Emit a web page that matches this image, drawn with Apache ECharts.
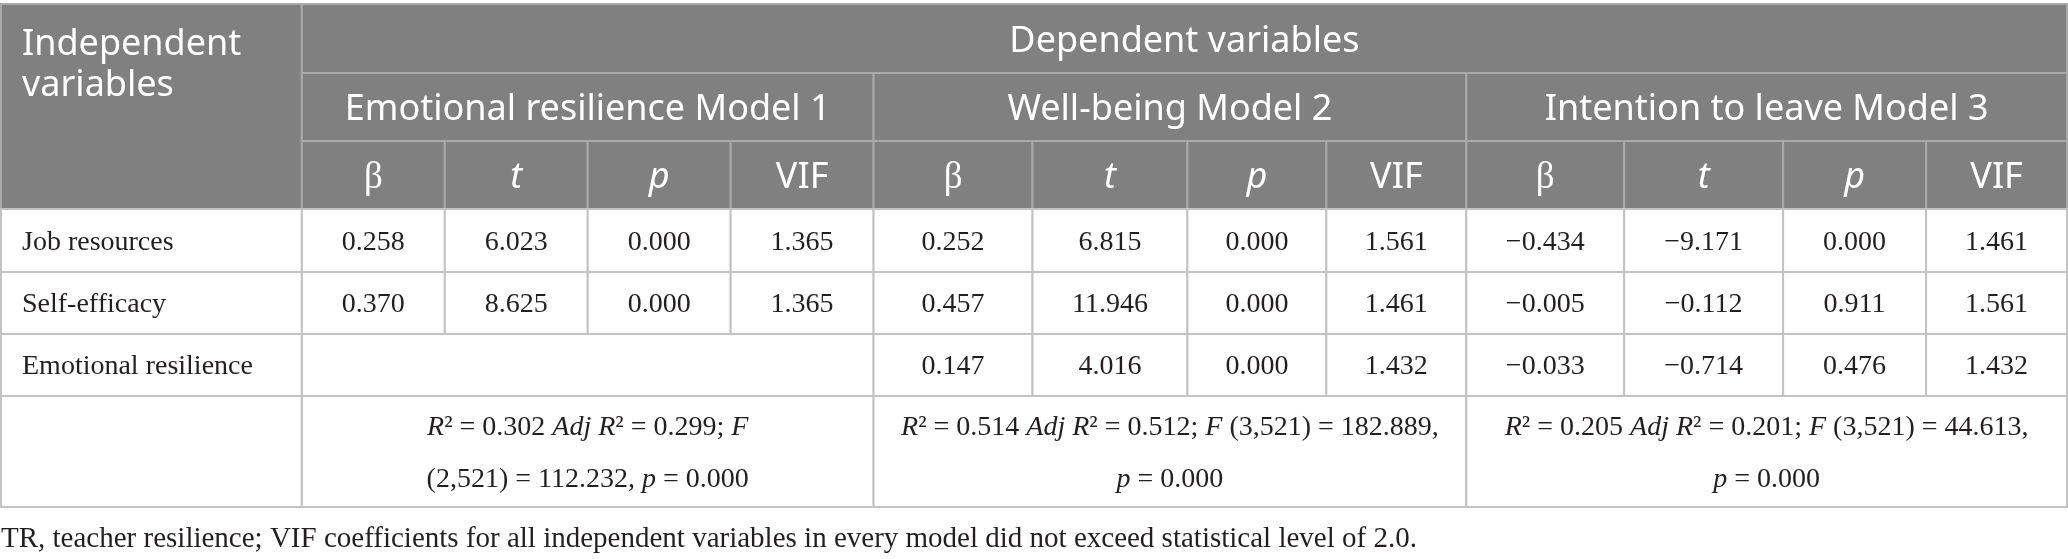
<!DOCTYPE html>
<html lang="en" style="height: 100%">
  <head>
    <meta charset="utf-8" />
  </head>
  <body style="height: 100%; margin: 0; background: #ffffff">
    <div id="container" style="width: 2068px; height: 559px"></div>

    <script
      type="text/javascript"
      src="https://fastly.jsdelivr.net/npm/echarts@6.0.0/dist/echarts.min.js"
    ></script>
    <script type="text/javascript">
      // table content
      const stubHeader = "Independent\nvariables";
      const groupHeader = "Dependent variables";
      const models = [
        "Emotional resilience Model 1",
        "Well-being Model 2",
        "Intention to leave Model 3",
      ];
      const statCols = ["β", "t", "p", "VIF"];
      const rowLabels = ["Job resources", "Self-efficacy", "Emotional resilience"];

      // Model 1: emotional resilience (no row for itself)
      const erBeta = [0.258, 0.37, null];
      const erT = [6.023, 8.625, null];
      const erP = [0.0, 0.0, null];
      const erVif = [1.365, 1.365, null];
      // Model 2: well-being
      const wbBeta = [0.252, 0.457, 0.147];
      const wbT = [6.815, 11.946, 4.016];
      const wbP = [0.0, 0.0, 0.0];
      const wbVif = [1.561, 1.461, 1.432];
      // Model 3: intention to leave
      const ilBeta = [-0.434, -0.005, -0.033];
      const ilT = [-9.171, -0.112, -0.714];
      const ilP = [0.0, 0.911, 0.476];
      const ilVif = [1.461, 1.561, 1.432];

      const fitLines = [
        ["R² = 0.302 Adj R² = 0.299; F", "(2,521) = 112.232, p = 0.000"],
        ["R² = 0.514 Adj R² = 0.512; F (3,521) = 182.889,", "p = 0.000"],
        ["R² = 0.205 Adj R² = 0.201; F (3,521) = 44.613,", "p = 0.000"],
      ];
      const footnote =
        "TR, teacher resilience; VIF coefficients for all independent variables in every model did not exceed statistical level of 2.0.";

      // layout (table units = px)
      const colWidths = [301, 143, 143, 143, 143, 159, 155, 139, 140, 158, 159, 143, 141];
      const rowHeights = [69, 68, 68, 63, 62, 62, 111];
      const colEdges = [0];
      colWidths.forEach((w, i) => colEdges.push(colEdges[i] + w));
      const rowEdges = [0];
      rowHeights.forEach((h, i) => rowEdges.push(rowEdges[i] + h));

      const sans = '"Noto Sans", sans-serif';
      const serif = '"Liberation Serif", serif';
      const headFill = "#7f807f";
      const headLine = "#a9a9a9";
      const bodyLine = "#c3c3c3";
      const ink = "#231f20";

      const modelCols = [
        [erBeta, erT, erP, erVif],
        [wbBeta, wbT, wbP, wbVif],
        [ilBeta, ilT, ilP, ilVif],
      ];

      function fmt(v) {
        return v.toFixed(3).replace("-", "\u2212");
      }
      function italicize(s) {
        return s.replace(/(Adj R|R(?=²)|\bF\b|\bp\b)/g, "{i|$1}");
      }

      // build cell list: [c0, c1, r0, r1] plus text / kind
      const cells = [];
      function cell(c0, c1, r0, r1, text, kind) {
        cells.push({ c0, c1, r0, r1, text, kind });
      }
      cell(0, 1, 0, 3, stubHeader, "stub");
      cell(1, 13, 0, 1, groupHeader, "head");
      models.forEach((m, i) => {
        cell(1 + 4 * i, 5 + 4 * i, 1, 2, m, "head");
        statCols.forEach((s, j) => {
          cell(1 + 4 * i + j, 2 + 4 * i + j, 2, 3, s, "stat");
        });
      });
      rowLabels.forEach((lab, k) => {
        cell(0, 1, 3 + k, 4 + k, lab, "label");
        modelCols.forEach((cols, i) => {
          if (cols[0][k] === null) {
            cell(1 + 4 * i, 5 + 4 * i, 3 + k, 4 + k, "", "value");
          } else {
            cols.forEach((arr, j) => {
              cell(1 + 4 * i + j, 2 + 4 * i + j, 3 + k, 4 + k, fmt(arr[k]), "value");
            });
          }
        });
      });
      cell(0, 1, 6, 7, "", "value");
      fitLines.forEach((lines, i) => {
        cell(1 + 4 * i, 5 + 4 * i, 6, 7, lines.map(italicize).join("\n"), "fit");
      });

      const cellData = cells.map((c) => [
        colEdges[c.c0],
        colEdges[c.c1],
        rowEdges[c.r0],
        rowEdges[c.r1],
      ]);

      function renderCell(params, api) {
        const c = cells[params.dataIndex];
        const p0 = api.coord([api.value(0), api.value(2)]);
        const p1 = api.coord([api.value(1), api.value(3)]);
        const x = p0[0],
          y = p0[1],
          w = p1[0] - p0[0],
          h = p1[1] - p0[1];
        const isHead = c.kind === "stub" || c.kind === "head" || c.kind === "stat";
        const children = [
          {
            type: "rect",
            shape: { x: x, y: y, width: w, height: h },
            style: {
              fill: isHead ? headFill : "#ffffff",
              stroke: isHead ? headLine : bodyLine,
              lineWidth: 2,
            },
          },
        ];
        let ts = {
          text: c.text,
          x: x + w / 2,
          y: y + h / 2,
          align: "center",
          verticalAlign: "middle",
          fill: ink,
          fontFamily: serif,
          fontSize: 28,
        };
        if (c.kind === "stub") {
          Object.assign(ts, {
            x: x + 21,
            y: y + 20,
            align: "left",
            verticalAlign: "top",
            fill: "#ffffff",
            fontFamily: sans,
            fontSize: 36,
            lineHeight: 41,
          });
        } else if (c.kind === "head") {
          Object.assign(ts, {
            y: y + h / 2 + 3,
            fill: "#ffffff",
            fontFamily: sans,
            fontSize: 36,
          });
        } else if (c.kind === "stat") {
          Object.assign(ts, {
            y: y + h / 2 + 3,
            fill: "#ffffff",
            fontFamily: c.text === "β" ? serif : sans,
            fontSize: c.text === "β" ? 37 : 36,
            fontStyle: c.text === "t" || c.text === "p" ? "italic" : "normal",
          });
        } else if (c.kind === "label") {
          Object.assign(ts, { x: x + 21, y: y + h / 2 + 2, align: "left" });
        } else if (c.kind === "value") {
          ts.y = y + h / 2 + 2;
        } else if (c.kind === "fit") {
          Object.assign(ts, {
            y: y + h / 2 + 2,
            lineHeight: 52,
            rich: {
              i: {
                fontStyle: "italic",
                fontFamily: serif,
                fontSize: 28,
                lineHeight: 52,
                color: ink,
              },
            },
          });
        }
        children.push({ type: "text", style: ts });
        return { type: "group", children: children };
      }

      var dom = document.getElementById("container");
      var myChart = echarts.init(dom, null, { renderer: "canvas" });

      var option = {
        animation: false,
        title: {
          text: footnote,
          left: 1,
          top: 525,
          padding: 0,
          textStyle: {
            fontFamily: serif,
            fontSize: 29,
            fontWeight: "normal",
            color: ink,
          },
        },
        grid: { left: 1, top: 4, width: 2066, height: 503 },
        xAxis: {
          type: "value",
          min: 0,
          max: colEdges[colEdges.length - 1],
          show: false,
        },
        yAxis: {
          type: "value",
          min: 0,
          max: rowEdges[rowEdges.length - 1],
          inverse: true,
          show: false,
        },
        series: [
          {
            type: "custom",
            silent: true,
            renderItem: renderCell,
            encode: { x: [0, 1], y: [2, 3] },
            data: cellData,
          },
        ],
      };

      myChart.setOption(option);
      window.addEventListener("resize", myChart.resize);
    </script>
  </body>
</html>
